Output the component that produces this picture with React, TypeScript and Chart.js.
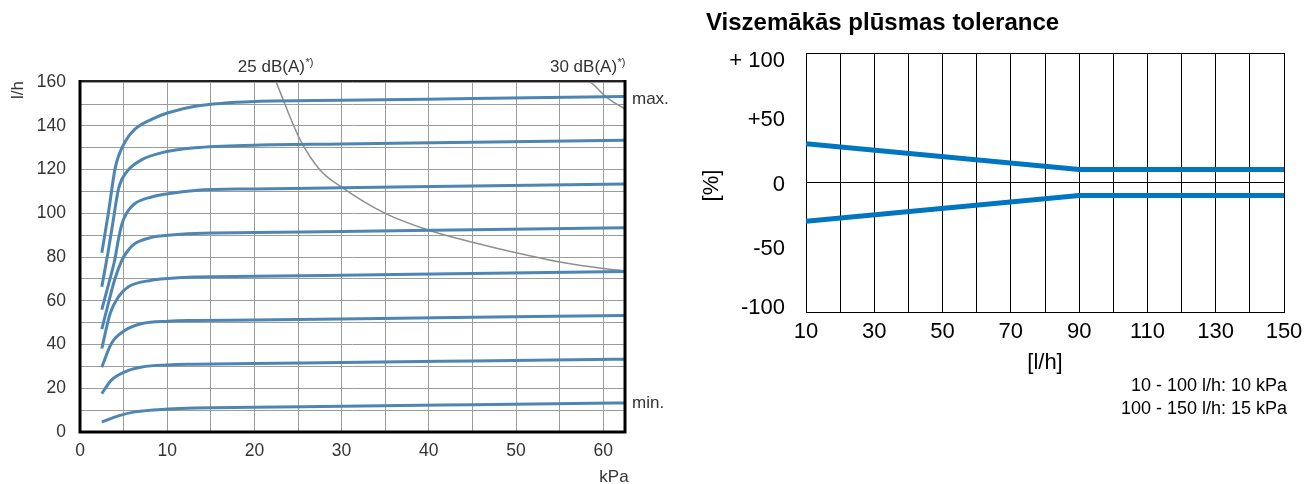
import React, { useEffect, useRef } from "react";
import { Chart, registerables } from "chart.js";

Chart.register(...registerables);

const FONT = '"Liberation Sans", Arial, Helvetica, sans-serif';

// Flow rate [l/h] against differential pressure [kPa], one curve per presetting
const FLOW_MAX: [number, number][] = [
  [2.5, 82], [3.25, 100], [4.0, 120], [4.4, 126], [5.2, 133], [6.3, 138.5],
  [8.2, 143], [10.1, 146], [13.2, 149], [20, 151.2], [30, 151.7], [45, 152.5], [62.5, 153.4],
];
const FLOW_130: [number, number][] = [
  [2.5, 66.4], [3.25, 83], [3.82, 97], [4.4, 111], [4.8, 115.5], [5.55, 120],
  [7.1, 124.6], [9.4, 127.8], [13.2, 130], [20, 131.2], [30, 131.7], [45, 132.5], [62.5, 133.4],
];
const FLOW_110: [number, number][] = [
  [2.5, 56], [3.3, 68], [4.0, 79], [4.4, 88], [4.8, 95], [5.4, 100.5], [6.3, 104.5],
  [8.2, 107.5], [10.1, 109], [13.2, 110.5], [20, 111.2], [30, 111.7], [45, 112.5], [62.5, 113.4],
];
const FLOW_90: [number, number][] = [
  [2.5, 47], [3.2, 58], [4.0, 70], [4.8, 78.5], [5.5, 83], [6.3, 86.2], [8.2, 89],
  [10.1, 90], [13.2, 90.8], [20, 91.2], [30, 91.7], [45, 92.5], [62.5, 93.4],
];
const FLOW_70: [number, number][] = [
  [2.5, 38.2], [3.46, 54.2], [4.4, 61.8], [5.55, 66.4], [8.2, 69.4], [10.1, 70.2],
  [13.2, 70.9], [20, 71.2], [30, 71.7], [45, 72.5], [62.5, 73.4],
];
const FLOW_50: [number, number][] = [
  [2.5, 29.7], [3.6, 40.5], [5.16, 46.5], [7.1, 49.6], [10.1, 50.7], [13.2, 51],
  [20, 51.2], [30, 51.7], [45, 52.5], [62.5, 53.3],
];
const FLOW_30: [number, number][] = [
  [2.5, 17.6], [3.6, 23.7], [5.16, 27.5], [7.1, 29.7], [10.1, 30.7], [13.2, 31],
  [20, 31.3], [30, 31.8], [45, 32.5], [62.5, 33.3],
];
const FLOW_MIN: [number, number][] = [
  [2.5, 4.6], [4.4, 7.4], [6.3, 9.2], [10.1, 10.5], [13.2, 11],
  [20, 11.3], [30, 11.8], [45, 12.5], [62.5, 13.3],
];
const FLOW_CURVES = [FLOW_MAX, FLOW_130, FLOW_110, FLOW_90, FLOW_70, FLOW_50, FLOW_30, FLOW_MIN];

// Sound level limits
const NOISE_25DB: [number, number][] = [
  [22.4, 161], [23, 155], [24.1, 144], [25.2, 134], [27.5, 120], [30, 112], [35, 100],
  [40, 92.3], [45, 86.8], [50, 82], [55, 77.8], [60, 74.8], [62.5, 73.7],
];
const NOISE_30DB: [number, number][] = [
  [58.2, 161], [59, 158.5], [60, 154.5], [61, 151.3], [62.5, 147.8],
];
const NOISE_LABELS = ["25 dB(A)", "30 dB(A)"];

const KPA_RANGE = [0, 62.5];
const FLOW_RANGE = [0, 161];

// Flow tolerance band
const TOL_FLOW = [10, 90, 150];
const TOL_UPPER = [30, 10, 10];
const TOL_LOWER = [-30, -10, -10];
const TOL_Y_TICKS = [100, 50, 0, -50, -100];
const TOL_Y_LABELS = ["+ 100", "+50", "0", "-50", "-100"];
const TOL_TITLE = "Viszemākās plūsmas tolerance";
const TOL_NOTES = ["10 - 100 l/h: 10 kPa", "100 - 150 l/h: 15 kPa"];

const toPoints = (arr: [number, number][]) => arr.map(([x, y]) => ({ x, y }));

function FlowChart() {
  const ref = useRef<HTMLCanvasElement>(null);
  useEffect(() => {
    const canvas = ref.current;
    if (!canvas) return;

    const drawNoiseLabel = (ctx: CanvasRenderingContext2D, text: string, cx: number, y: number) => {
      ctx.font = `17px ${FONT}`;
      const w1 = ctx.measureText(text).width;
      ctx.font = `11px ${FONT}`;
      const w2 = ctx.measureText("*)").width;
      const x0 = cx - (w1 + w2) / 2;
      ctx.textAlign = "left";
      ctx.textBaseline = "alphabetic";
      ctx.font = `17px ${FONT}`;
      ctx.fillText(text, x0, y + 6);
      ctx.font = `11px ${FONT}`;
      ctx.fillText("*)", x0 + w1 + 0.5, y);
    };

    const annotations = {
      id: "flowAnnotations",
      afterDraw(chart: any) {
        const { ctx, chartArea: a, scales } = chart;
        const xs = scales.x;
        const ys = scales.y;
        ctx.save();
        // frame
        ctx.strokeStyle = "#222";
        ctx.lineWidth = 2;
        ctx.beginPath();
        ctx.moveTo(a.left, a.top + 1);
        ctx.lineTo(a.right, a.top + 1);
        ctx.stroke();
        ctx.strokeStyle = "#000";
        ctx.lineWidth = 3;
        ctx.beginPath();
        ctx.moveTo(a.left, a.top);
        ctx.lineTo(a.left, a.bottom);
        ctx.lineTo(a.right, a.bottom);
        ctx.lineTo(a.right, a.top);
        ctx.stroke();

        ctx.fillStyle = "#333";
        drawNoiseLabel(ctx, NOISE_LABELS[0], xs.getPixelForValue(NOISE_25DB[0][0]), a.top - 14);
        drawNoiseLabel(ctx, NOISE_LABELS[1], xs.getPixelForValue(NOISE_30DB[0][0]), a.top - 14);

        ctx.font = `17px ${FONT}`;
        ctx.textAlign = "left";
        ctx.textBaseline = "middle";
        const lastMax = FLOW_MAX[FLOW_MAX.length - 1][1];
        const lastMin = FLOW_MIN[FLOW_MIN.length - 1][1];
        ctx.fillText("max.", a.right + 7, ys.getPixelForValue(lastMax) + 3);
        ctx.fillText("min.", a.right + 7, ys.getPixelForValue(lastMin));

        ctx.textAlign = "center";
        ctx.fillText("kPa", a.right - 11, a.bottom + 45);

        ctx.translate(a.left - 62, a.top + 10);
        ctx.rotate(-Math.PI / 2);
        ctx.fillText("l/h", 0, 0);
        ctx.restore();
      },
    };

    const blue = FLOW_CURVES.map((c) => ({
      data: toPoints(c),
      borderColor: "#4d86b4",
      borderWidth: 3,
      pointRadius: 0,
      cubicInterpolationMode: "monotone" as const,
      fill: false,
    }));
    const grey = [NOISE_25DB, NOISE_30DB].map((c) => ({
      data: toPoints(c),
      borderColor: "#8f8f8f",
      borderWidth: 1.5,
      pointRadius: 0,
      cubicInterpolationMode: "monotone" as const,
      fill: false,
    }));

    const chart = new Chart(canvas, {
      type: "line",
      data: { datasets: [...blue, ...grey] },
      options: {
        animation: false,
        responsive: false,
        devicePixelRatio: 1,
        layout: { padding: { top: 80, right: 65, left: 0, bottom: 0 } },
        plugins: { legend: { display: false }, tooltip: { enabled: false } },
        scales: {
          x: {
            type: "linear",
            min: KPA_RANGE[0],
            max: KPA_RANGE[1],
            ticks: {
              stepSize: 5,
              includeBounds: false,
              autoSkip: false,
              maxRotation: 0,
              padding: 9,
              color: "#333",
              font: { size: 17.5, family: FONT },
              callback: (v: any) => (Number(v) % 10 === 0 ? String(v) : ""),
            },
            grid: { color: "#9c9c9c", lineWidth: 1, drawTicks: false },
            border: { display: false },
            afterFit: (s: any) => {
              s.height = 52;
              s.paddingLeft = 0;
              s.paddingRight = 0;
            },
          },
          y: {
            type: "linear",
            min: FLOW_RANGE[0],
            max: FLOW_RANGE[1],
            ticks: {
              stepSize: 10,
              includeBounds: false,
              autoSkip: false,
              padding: 14,
              color: "#333",
              font: { size: 17.5, family: FONT },
              callback: (v: any) => (Number(v) % 20 === 0 ? String(v) : ""),
            },
            grid: { color: "#9c9c9c", lineWidth: 1, drawTicks: false },
            border: { display: false },
            afterFit: (s: any) => {
              s.width = 80;
            },
          },
        },
      },
      plugins: [annotations],
    });
    return () => chart.destroy();
  }, []);
  return (
    <canvas
      ref={ref}
      width={690}
      height={484}
      style={{ position: "absolute", left: 0, top: 0, width: 690, height: 484 }}
    />
  );
}

function ToleranceChart() {
  const ref = useRef<HTMLCanvasElement>(null);
  useEffect(() => {
    const canvas = ref.current;
    if (!canvas) return;

    const texts = {
      id: "toleranceTexts",
      afterDraw(chart: any) {
        const { ctx, chartArea: a, scales } = chart;
        const ys = scales.y;
        ctx.save();
        ctx.fillStyle = "#000";
        ctx.textBaseline = "middle";

        ctx.font = `bold 24px ${FONT}`;
        ctx.textAlign = "left";
        ctx.fillText(TOL_TITLE, 16, 23);

        ctx.font = `22px ${FONT}`;
        ctx.textAlign = "right";
        TOL_Y_TICKS.forEach((v, i) => {
          let py = ys.getPixelForValue(v) + 2;
          py = Math.min(Math.max(py, a.top + 8), a.bottom - 4);
          ctx.fillText(TOL_Y_LABELS[i], a.left - 21, py);
        });

        ctx.textAlign = "center";
        ctx.fillText("[l/h]", (a.left + a.right) / 2, a.bottom + 51);

        ctx.font = `18px ${FONT}`;
        ctx.textAlign = "right";
        ctx.fillText(TOL_NOTES[0], a.right + 3, a.bottom + 74);
        ctx.fillText(TOL_NOTES[1], a.right + 3, a.bottom + 97);

        ctx.font = `22px ${FONT}`;
        ctx.textAlign = "center";
        ctx.translate(22, ys.getPixelForValue(0) + 3);
        ctx.rotate(-Math.PI / 2);
        ctx.fillText("[%]", 0, 0);
        ctx.restore();
      },
    };

    const band = (vals: number[]) => ({
      data: TOL_FLOW.map((x, i) => ({ x, y: vals[i] })),
      borderColor: "#0076c2",
      borderWidth: 5,
      pointRadius: 0,
      tension: 0,
      fill: false,
    });

    const chart = new Chart(canvas, {
      type: "line",
      data: { datasets: [band(TOL_UPPER), band(TOL_LOWER)] },
      options: {
        animation: false,
        responsive: false,
        devicePixelRatio: 1,
        layout: { padding: { top: 53, right: 20, left: 0, bottom: 0 } },
        plugins: { legend: { display: false }, tooltip: { enabled: false } },
        scales: {
          x: {
            type: "linear",
            min: TOL_FLOW[0],
            max: TOL_FLOW[TOL_FLOW.length - 1],
            ticks: {
              stepSize: 10,
              autoSkip: false,
              maxRotation: 0,
              padding: 7,
              color: "#000",
              font: { size: 22, family: FONT },
              callback: (v: any) => ((Number(v) - 10) % 20 === 0 ? String(v) : ""),
            },
            grid: { color: "#000", lineWidth: 1, drawTicks: false },
            border: { color: "#000", width: 1 },
            afterFit: (s: any) => {
              s.height = 172;
              s.paddingLeft = 0;
              s.paddingRight = 0;
            },
          },
          y: {
            type: "linear",
            min: -100,
            max: 100,
            ticks: { stepSize: 50, display: false },
            grid: {
              drawTicks: false,
              lineWidth: 1,
              color: (c: any) => (c.tick && Math.abs(c.tick.value) % 100 === 0 ? "#000" : "rgba(0,0,0,0)"),
            },
            border: { color: "#000", width: 1 },
            afterFit: (s: any) => {
              s.width = 116;
            },
          },
        },
      },
      plugins: [texts],
    });
    return () => chart.destroy();
  }, []);
  return (
    <canvas
      ref={ref}
      width={614}
      height={484}
      style={{ position: "absolute", left: 690, top: 0, width: 614, height: 484 }}
    />
  );
}

export default function App() {
  return (
    <div style={{ position: "absolute", left: 0, top: 0, width: 1304, height: 484, background: "#fff" }}>
      <FlowChart />
      <ToleranceChart />
    </div>
  );
}
